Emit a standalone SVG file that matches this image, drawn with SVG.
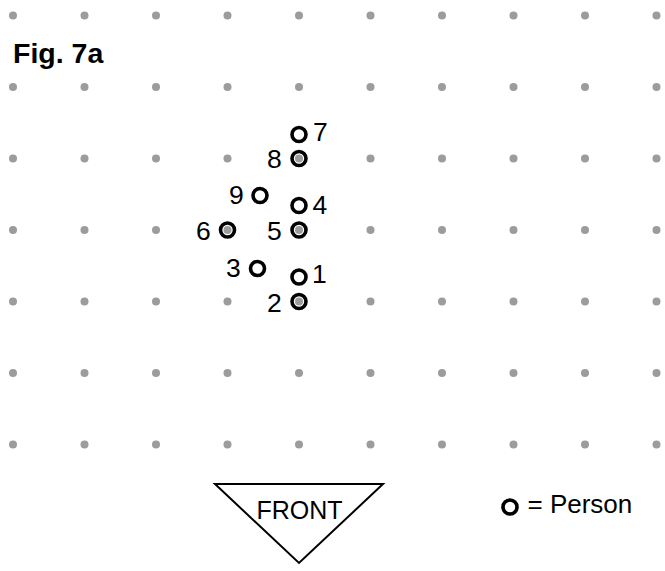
<svg xmlns="http://www.w3.org/2000/svg" width="665" height="571" viewBox="0 0 665 571">
<defs>
<style>
.dot{fill:#9c9c9c}
.p{fill:none;stroke:#000;stroke-width:3.6}
.lbl{font-family:"Liberation Sans",Arial,sans-serif;font-size:26.5px;fill:#000}
.t{font-family:"Liberation Sans",Arial,sans-serif;font-size:25px;fill:#000}
</style>
<g id="dotrow">
<circle class="dot" cx="13" cy="0" r="4"/><circle class="dot" cx="84.5" cy="0" r="4"/><circle class="dot" cx="156" cy="0" r="4"/><circle class="dot" cx="227.5" cy="0" r="4"/><circle class="dot" cx="299" cy="0" r="4"/><circle class="dot" cx="370.5" cy="0" r="4"/><circle class="dot" cx="442" cy="0" r="4"/><circle class="dot" cx="513.5" cy="0" r="4"/><circle class="dot" cx="585" cy="0" r="4"/><circle class="dot" cx="656.5" cy="0" r="4"/>
</g>
</defs>
<rect width="665" height="571" fill="#fff"/>
<g id="grid">
<use href="#dotrow" y="15.5"/><use href="#dotrow" y="87"/><use href="#dotrow" y="158.5"/><use href="#dotrow" y="230"/><use href="#dotrow" y="301.5"/><use href="#dotrow" y="373"/><use href="#dotrow" y="444.5"/>
</g>
<text id="title" x="13" y="63" font-family="Liberation Sans,Arial,sans-serif" font-size="28.5" font-weight="bold">Fig. 7a</text>
<g id="connectors"/>
<g id="p7"><circle class="p" cx="299" cy="134.5" r="7"/><text class="lbl" x="313" y="141">7</text></g>
<g id="p8"><circle class="p" cx="299" cy="158.5" r="7"/><text class="lbl" x="267" y="168">8</text></g>
<g id="p9"><circle class="p" cx="260" cy="195.5" r="7"/><text class="lbl" x="229" y="204">9</text></g>
<g id="p4"><circle class="p" cx="299" cy="205.5" r="7"/><text class="lbl" x="312.5" y="214">4</text></g>
<g id="p5"><circle class="p" cx="299" cy="230" r="7"/><text class="lbl" x="267" y="240">5</text></g>
<g id="p6"><circle class="p" cx="227.5" cy="230" r="7"/><text class="lbl" x="196" y="240">6</text></g>
<g id="p3"><circle class="p" cx="257.5" cy="268.5" r="7"/><text class="lbl" x="226" y="277">3</text></g>
<g id="p1"><circle class="p" cx="299" cy="277" r="7"/><text class="lbl" x="312" y="283">1</text></g>
<g id="p2"><circle class="p" cx="299" cy="301.5" r="7"/><text class="lbl" x="267" y="312">2</text></g>
<g id="front"><polygon points="215,484 383,484 299,563" fill="#fff" stroke="#000" stroke-width="2"/><text class="t" x="256.5" y="519">FRONT</text></g>
<g id="legend"><circle class="p" cx="510" cy="507" r="7"/><text x="527.5" y="513" font-family="Liberation Sans,Arial,sans-serif" font-size="26">= Person</text></g>
</svg>
